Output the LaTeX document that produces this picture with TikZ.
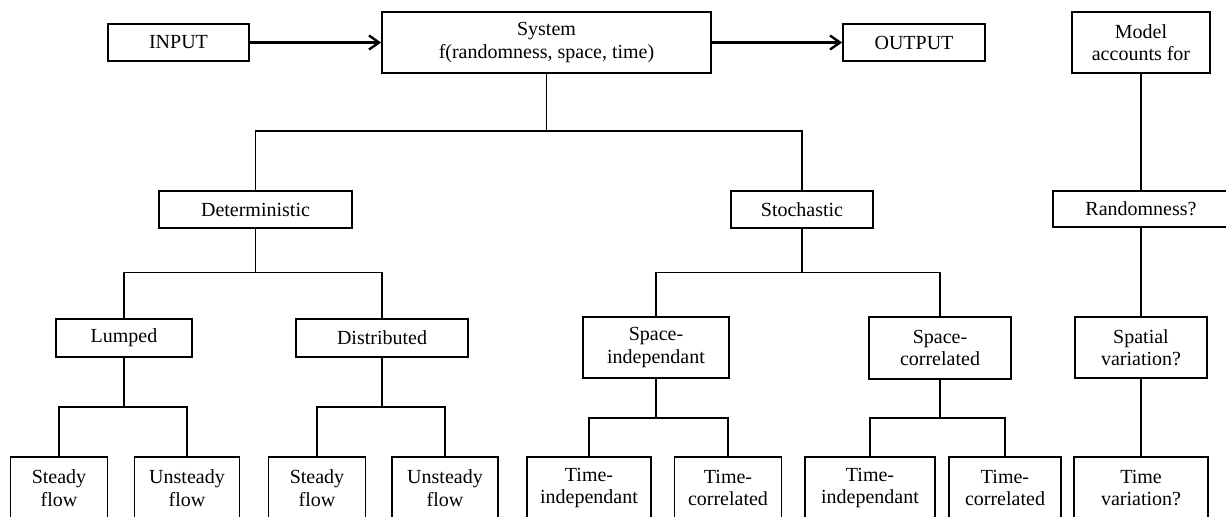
\documentclass[tikz,border=0pt]{standalone}
\usepackage{fontspec}
\setmainfont{Liberation Serif}
\usetikzlibrary{arrows.meta}

\tikzset{
    box/.style={draw, line width=0.9pt, inner sep=0pt, align=center, font=\fontsize{10}{11.2}\selectfont},
    wh/.style 2 args={minimum width=#1*0.5pt, minimum height=#2*0.5pt},
    link/.style={line width=0.9pt},
    flow/.style={line width=1.2pt, -{Straight Barb[length=5pt,width=7pt]}}
}

\begin{document}
\begin{tikzpicture}[x=0.5pt, y=-0.5pt]
    \useasboundingbox (0,0) rectangle (1226,516);
    \clip (0,0) rectangle (1226,516);

    \node[box, wh={141}{37}] (input) at (178.5,42.5) {INPUT};
    \node[box, wh={329}{61}] (system) at (546.5,42.5) {System\\f(randomness, space, time)};
    \node[box, wh={142}{37}] (output) at (914,42.5) {OUTPUT};
    \node[box, wh={138}{61}] (model) at (1141,42.5) {Model\\accounts for};

    \node[box, wh={193}{37}] (det) at (255.5,209.5) {Deterministic};
    \node[box, wh={142}{37}] (stoch) at (802,209.5) {Stochastic};
    \node[box, wh={176}{36}] (rand) at (1141,209) {Randomness?};

    \node[box, wh={136}{38}] (lumped) at (124,338) {Lumped};
    \node[box, wh={172}{38}] (distr) at (382,338) {Distributed};
    \node[box, wh={146}{61}] (spind) at (656,347.5) {Space-\\independant};
    \node[box, wh={142}{62}] (spcor) at (940,348) {Space-\\correlated};
    \node[box, wh={132}{61}] (spatial) at (1141,347.5) {Spatial\\variation?};

    \node[box, wh={97}{62}] (steadyA) at (59,488) {Steady\\flow};
    \node[box, wh={105}{62}] (unsteadyA) at (187,488) {Unsteady\\flow};
    \node[box, wh={97}{62}] (steadyB) at (317,488) {Steady\\flow};
    \node[box, wh={106}{62}] (unsteadyB) at (445,488) {Unsteady\\flow};
    \node[box, wh={124}{62}] (tindA) at (589,488) {Time-\\independant};
    \node[box, wh={107}{62}] (tcorA) at (728,488) {Time-\\correlated};
    \node[box, wh={130}{62}] (tindB) at (870,488) {Time-\\independant};
    \node[box, wh={112}{62}] (tcorB) at (1005,488) {Time-\\correlated};
    \node[box, wh={134}{62}] (timevar) at (1141,488) {Time\\variation?};

    \draw[flow] (input) -- (system);
    \draw[flow] (system) -- (output);

    \coordinate (barA) at (0,131);
    \coordinate (barB) at (0,272.5);
    \coordinate (barC) at (0,407);
    \coordinate (barD) at (0,418);

    \draw[link] (system.south) -- (system.south |- barA);
    \draw[link] (det.north) -- (det.north |- barA) -- (stoch.north |- barA) -- (stoch.north);

    \draw[link] (det.south) -- (det.south |- barB);
    \draw[link] (lumped.north) -- (lumped.north |- barB) -- (distr.north |- barB) -- (distr.north);

    \draw[link] (stoch.south) -- (stoch.south |- barB);
    \draw[link] (spind.north) -- (spind.north |- barB) -- (spcor.north |- barB) -- (spcor.north);

    \draw[link] (lumped.south) -- (lumped.south |- barC);
    \draw[link] (steadyA.north) -- (steadyA.north |- barC) -- (unsteadyA.north |- barC) -- (unsteadyA.north);

    \draw[link] (distr.south) -- (distr.south |- barC);
    \draw[link] (steadyB.north) -- (steadyB.north |- barC) -- (unsteadyB.north |- barC) -- (unsteadyB.north);

    \draw[link] (spind.south) -- (spind.south |- barD);
    \draw[link] (tindA.north) -- (tindA.north |- barD) -- (tcorA.north |- barD) -- (tcorA.north);

    \draw[link] (spcor.south) -- (spcor.south |- barD);
    \draw[link] (tindB.north) -- (tindB.north |- barD) -- (tcorB.north |- barD) -- (tcorB.north);

    \draw[link] (model) -- (rand);
    \draw[link] (rand) -- (spatial);
    \draw[link] (spatial) -- (timevar);
\end{tikzpicture}
\end{document}
